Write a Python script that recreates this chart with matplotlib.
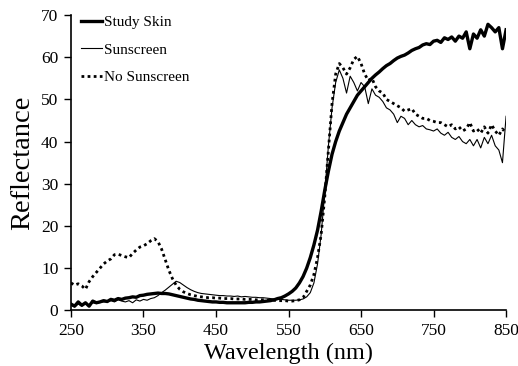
import matplotlib
matplotlib.use("Agg")
import matplotlib.pyplot as plt
import numpy as np

wavelength = list(range(250, 851, 5))

study_skin = [
    1.5, 1.0, 2.0, 1.2, 1.8, 1.0, 2.2, 1.8, 2.0, 2.3,   # 250-295
    2.1, 2.6, 2.4, 2.8, 2.6, 2.9, 3.0, 3.2, 3.1, 3.5,   # 300-345
    3.6, 3.8, 3.9, 4.0, 4.1, 4.0, 4.0, 3.9, 3.7, 3.5,   # 350-395
    3.3, 3.1, 2.9, 2.7, 2.6, 2.4, 2.3, 2.2, 2.1, 2.0,   # 400-445
    2.0, 1.9, 1.9, 1.8, 1.8, 1.8, 1.8, 1.8, 1.8, 1.9,   # 450-495
    1.9, 2.0, 2.0, 2.1, 2.2, 2.3, 2.5, 2.8, 3.0, 3.4,   # 500-545
    3.9, 4.5, 5.3, 6.5, 8.0, 10.0, 12.5, 15.5, 19.0, 23.5,  # 550-595
    28.5, 33.0, 37.0, 40.0, 42.5, 44.5, 46.5, 48.0, 49.5, 51.0,  # 600-645
    52.0, 53.0, 54.0, 55.0, 55.8, 56.5, 57.3, 58.0, 58.5, 59.2,  # 650-695
    59.8, 60.2, 60.5, 61.0, 61.6, 62.0, 62.3, 62.9, 63.2, 63.0,  # 700-745
    63.8, 64.0, 63.5, 64.6, 64.2, 64.8, 63.8, 65.0, 64.5, 66.0,  # 750-795
    62.0, 65.5, 64.5, 66.5, 65.0, 67.8, 67.0, 66.0, 67.0, 62.0,  # 800-845
    66.5,                                                        # 850
]

sunscreen = [
    1.2, 0.8, 1.5, 1.0, 1.6, 1.2, 1.8, 1.6, 1.9, 2.0,
    2.0, 2.3, 2.0, 2.5, 2.2, 2.0, 2.3, 1.8, 2.5, 2.2,
    2.6, 2.4, 2.8, 3.0, 3.5, 4.2, 4.8, 5.5, 6.2, 6.9,
    6.6, 6.0, 5.4, 4.9, 4.5, 4.2, 4.0, 3.9, 3.8, 3.7,
    3.6, 3.5, 3.5, 3.4, 3.4, 3.3, 3.4, 3.2, 3.3, 3.2,
    3.1, 3.1, 3.0, 3.0, 2.9, 2.8, 2.7, 2.6, 2.6, 2.5,
    2.4, 2.4, 2.4, 2.5, 2.7, 3.2, 4.2, 6.5, 11.0, 18.0,
    28.0, 39.0, 48.0, 54.0, 57.0, 55.0, 51.5, 55.5, 54.0, 52.0,
    54.0, 53.0, 49.0, 52.5, 51.0, 50.5, 49.5, 48.0, 47.5, 46.5,
    44.5, 46.0, 45.5, 44.0, 45.0, 44.0, 43.5, 43.8, 43.0, 42.8,
    42.5, 43.0, 42.0, 41.5, 42.2, 41.0, 40.5, 41.2, 40.0, 39.5,
    40.5, 39.0, 40.5, 38.5, 41.0, 39.5, 41.5, 39.0, 38.0, 35.0,
    46.0,
]

no_sunscreen = [
    6.5, 6.0, 6.3, 5.8, 5.0, 6.8, 8.0, 9.0, 10.0, 11.0,
    11.7, 12.2, 13.2, 13.3, 13.0, 12.7, 12.5, 13.5, 14.3, 15.0,
    15.3, 15.8, 16.5, 17.0, 16.3, 14.5, 12.0, 9.5, 7.5, 6.0,
    5.0, 4.4, 4.0, 3.7, 3.5, 3.3, 3.2, 3.1, 3.0, 3.0,
    2.9, 2.9, 2.8, 2.8, 2.8, 2.7, 2.7, 2.7, 2.6, 2.6,
    2.6, 2.5, 2.5, 2.5, 2.4, 2.4, 2.4, 2.3, 2.3, 2.3,
    2.2, 2.2, 2.3, 2.5, 3.0, 4.5, 6.0, 8.5, 12.5, 18.0,
    27.0, 38.0, 49.0, 56.0, 58.5, 57.5, 56.0, 57.5, 59.5, 60.2,
    58.5, 56.0, 54.5, 55.0, 53.0, 52.0, 51.5, 50.0, 49.5, 49.0,
    48.5, 48.0, 47.2, 47.5, 47.8, 46.5, 46.0, 45.5, 45.5, 45.0,
    44.8, 44.5, 44.5, 44.0, 43.5, 44.0, 43.0, 43.5, 42.5, 43.0,
    44.5, 42.5, 43.0, 42.0, 43.5, 42.0, 44.0, 42.5, 41.5, 43.0,
    42.0,
]

x_ticks = [250, 350, 450, 550, 650, 750, 850]
y_ticks = [0, 10, 20, 30, 40, 50, 60, 70]

plt.rcParams['font.family'] = ['Liberation Serif', 'DejaVu Serif']

fig = plt.figure(figsize=(5.18, 3.66), dpi=100)
ax = fig.add_axes([0.137, 0.152, 0.840, 0.807])

ax.plot(wavelength, study_skin, color='black', lw=2.4, label='Study Skin')
ax.plot(wavelength, sunscreen, color='black', lw=0.8, label='Sunscreen')
ax.plot(wavelength, no_sunscreen, color='black', lw=2.0, linestyle=(0, (1, 1.2)),
        label='No Sunscreen')

ax.set_xlim(250, 850)
ax.set_ylim(0, 70)
ax.set_xticks(x_ticks)
ax.set_yticks(y_ticks)
ax.tick_params(axis='both', direction='out', length=5, width=1, labelsize=12.5, pad=4)
for s in ['top', 'right']:
    ax.spines[s].set_visible(False)
for s in ['left', 'bottom']:
    ax.spines[s].set_linewidth(1.2)

ax.set_xlabel('Wavelength (nm)', fontsize=17.5, labelpad=3)
ax.set_ylabel('Reflectance', fontsize=20.5, labelpad=4)

leg = ax.legend(loc='upper left', frameon=False, fontsize=11, handlelength=1.4,
                handletextpad=0.1, borderaxespad=0.1, labelspacing=0.92,
                bbox_to_anchor=(0.005, 1.025))

fig.savefig('out.png', dpi=100)
